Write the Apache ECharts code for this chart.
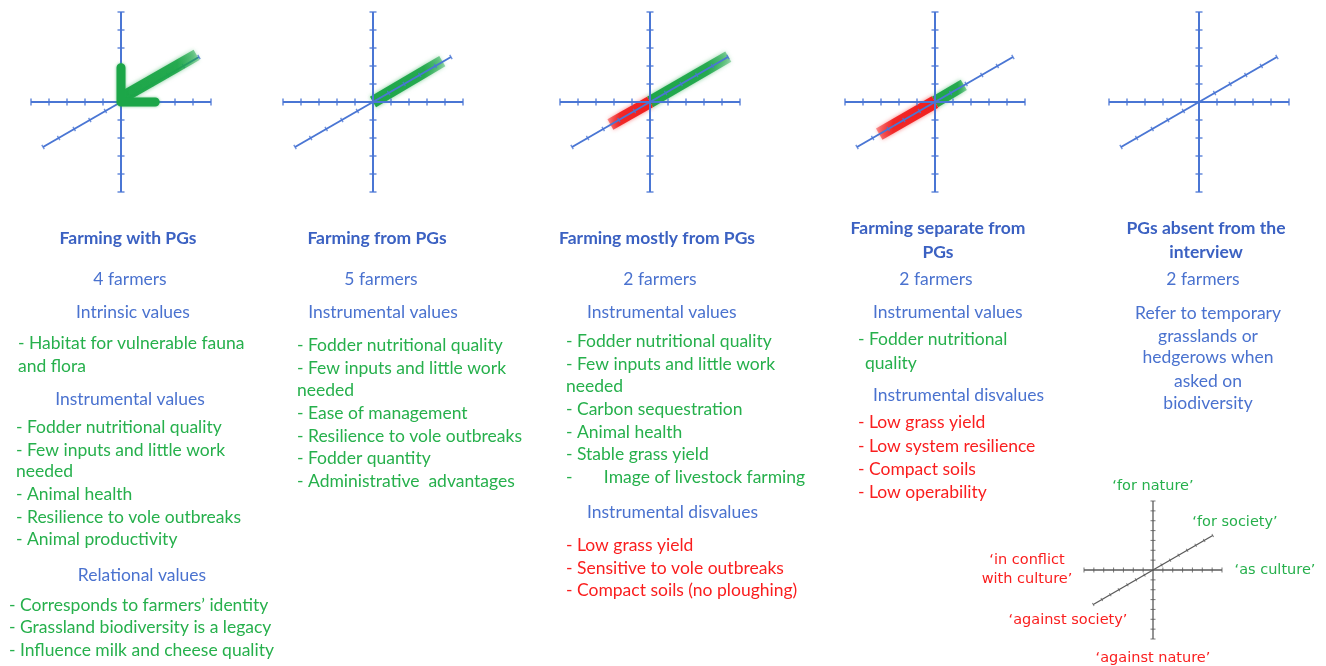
<!DOCTYPE html>
<html><head><meta charset="utf-8">
<script src="https://cdn.jsdelivr.net/npm/echarts@6/dist/echarts.min.js"></script>
<style>html,body{margin:0;padding:0;background:#fff}#c{width:1326px;height:666px}</style>
</head><body><div id="c"></div>
<script>
// ================= DATA =================
const titleLines = [['Farming with PGs'], ['Farming from PGs'], ['Farming mostly from PGs'], ['Farming separate from', 'PGs'], ['PGs absent from the', 'interview']];
const farmerCounts = ['4 farmers', '5 farmers', '2 farmers', '2 farmers', '2 farmers'];

const withPGsItems = [
  ['sub', 'Intrinsic values'],
  ['val', '- Habitat for vulnerable fauna'],
  ['val', 'and flora'],
  ['sub', 'Instrumental values'],
  ['val', '- Fodder nutritional quality'],
  ['val', '- Few inputs and little work'],
  ['val', 'needed'],
  ['val', '- Animal health'],
  ['val', '- Resilience to vole outbreaks'],
  ['val', '- Animal productivity'],
  ['sub', 'Relational values'],
  ['val', '- Corresponds to farmers\u2019 identity'],
  ['val', '- Grassland biodiversity is a legacy'],
  ['val', '- Influence milk and cheese quality']
];
const fromPGsItems = [
  ['sub', 'Instrumental values'],
  ['val', '- Fodder nutritional quality'],
  ['val', '- Few inputs and little work'],
  ['val', 'needed'],
  ['val', '- Ease of management'],
  ['val', '- Resilience to vole outbreaks'],
  ['val', '- Fodder quantity'],
  ['val', '- Administrative  advantages']
];
const mostlyItems = [
  ['sub', 'Instrumental values'],
  ['val', '- Fodder nutritional quality'],
  ['val', '- Few inputs and little work'],
  ['val', 'needed'],
  ['val', '- Carbon sequestration'],
  ['val', '- Animal health'],
  ['val', '- Stable grass yield'],
  ['val', '-       Image of livestock farming'],
  ['sub', 'Instrumental disvalues'],
  ['dis', '- Low grass yield'],
  ['dis', '- Sensitive to vole outbreaks'],
  ['dis', '- Compact soils (no ploughing)']
];
const separateItems = [
  ['sub', 'Instrumental values'],
  ['val', '- Fodder nutritional'],
  ['val', 'quality'],
  ['sub', 'Instrumental disvalues'],
  ['dis', '- Low grass yield'],
  ['dis', '- Low system resilience'],
  ['dis', '- Compact soils'],
  ['dis', '- Low operability']
];
const absentItems = [
  ['sub', 'Refer to temporary'],
  ['sub', 'grasslands or'],
  ['sub', 'hedgerows when'],
  ['sub', 'asked on'],
  ['sub', 'biodiversity']
];

// value-axis frame of each small diagram
const axisH = [[-5, 0], [5, 0]];
const axisV = [[0, -5], [0, 5]];
const axisD = [[-4.33, -2.5], [4.33, 2.5]];
const tickSteps = [-5, -4, -3, -2, -1, 1, 2, 3, 4, 5];

// coloured arrows (green = values, red = disvalues)
const withShaft = [[0.15, 0.3], [4.2, 2.62]];
const withHead = [[0, 1.9], [0, 0], [1.9, 0]];
const fromGreen = [[0, 0], [3.85, 2.27]];
const mostlyGreen = [[0, 0], [4.35, 2.52]];
const mostlyRed = [[0, 0], [-2.2, -1.25]];
const separateGreen = [[0, 0], [1.6, 0.95]];
const separateRed = [[0, 0], [-3.1, -1.78]];

// key diagram
const keyH = [[-7, 0], [7, 0]];
const keyV = [[0, -7], [0, 7]];
const keyD = [[-6.06, -3.5], [6.06, 3.5]];
const keyTickSteps = [-7, -6, -5, -4, -3, -2, -1, 1, 2, 3, 4, 5, 6, 7];
const keyLabels = ['\u2018for nature\u2019', '\u2018for society\u2019', '\u2018as culture\u2019', '\u2018in conflict', 'with culture\u2019', '\u2018against society\u2019', '\u2018against nature\u2019'];
const keyKinds = ['val', 'val', 'val', 'dis', 'dis', 'dis', 'dis'];

// ================= LAYOUT / STYLE =================
const GREEN = '#26b04c', RED = '#fa1e1e', HEAD = '#3b61c2', SUB = '#4a72cf', AXIS = '#4a76d4', KEYAX = '#5a5a5a';
const panelCX = [121, 373, 650, 935, 1199];
const titleX = [128, 377, 657, 938, 1206];
const countX = [130, 381, 660, 936, 1203];
const itemLayouts = [
  [['center', 133, 312], ['left', 18, 343], ['left', 18, 366], ['center', 130, 399], ['left', 16, 427], ['left', 16, 450], ['left', 16, 471], ['left', 16, 494], ['left', 16, 517], ['left', 16, 539], ['center', 142, 575], ['left', 9, 605], ['left', 9, 627], ['left', 9, 650]],
  [['center', 383, 312], ['left', 297, 345], ['left', 297, 368], ['left', 297, 390], ['left', 297, 413], ['left', 297, 436], ['left', 297, 458], ['left', 297, 481]],
  [['left', 587, 312], ['left', 566, 341], ['left', 566, 364], ['left', 566, 386], ['left', 566, 409], ['left', 566, 432], ['left', 566, 454], ['left', 566, 477], ['left', 587, 512], ['left', 566, 545], ['left', 566, 568], ['left', 566, 590]],
  [['left', 873, 312], ['left', 858, 339], ['left', 865, 363], ['left', 873, 395], ['left', 858, 422], ['left', 858, 446], ['left', 858, 469], ['left', 858, 492]],
  [['center', 1208, 313], ['center', 1208, 336], ['center', 1208, 357], ['center', 1208, 381], ['center', 1208, 403]]
];
const keyPos = [[1153, 486], [1235, 522], [1275, 570], [1027, 560], [1027, 579], [1068, 620], [1153, 658]];

const allItems = [withPGsItems, fromPGsItems, mostlyItems, separateItems, absentItems];
const kindColor = { sub: SUB, val: GREEN, dis: RED };
const BODY_FONT = '17.5px Lato', HEAD_FONT = 'bold 17.5px Lato', KEY_FONT = '14.5px "DejaVu Sans"';

// ================= BUILD =================
const grids = [], xAxes = [], yAxes = [], series = [];
const DEG = Math.PI / 6;

function addFrame(idx, h, v, d, steps, color, width, tickLen, zAx) {
  const base = { type: 'line', xAxisIndex: idx, yAxisIndex: idx, symbol: 'none', silent: true, animation: false, z: zAx,
    lineStyle: { color: color, width: width } };
  series.push(Object.assign({}, base, { data: h }));
  series.push(Object.assign({}, base, { data: v }));
  series.push(Object.assign({}, base, { data: d }));
  const sc = { type: 'scatter', xAxisIndex: idx, yAxisIndex: idx, symbol: 'rect', silent: true, animation: false, z: zAx,
    itemStyle: { color: color } };
  series.push(Object.assign({}, sc, { data: steps.map(s => [s, 0]), symbolSize: [width * 0.8, tickLen] }));
  series.push(Object.assign({}, sc, { data: steps.map(s => [0, s]), symbolSize: [tickLen, width * 0.8] }));
  series.push(Object.assign({}, sc, { data: steps.map(s => [s * Math.cos(DEG), s * Math.sin(DEG)]), symbolSize: [width * 0.7, tickLen * 0.7], symbolRotate: 30 }));
}

function grad(rgb, reverse) {
  const stops = [
    { offset: 0, color: 'rgba(' + rgb + ',1)' },
    { offset: 0.7, color: 'rgba(' + rgb + ',0.92)' },
    { offset: 1, color: 'rgba(' + rgb + ',0.35)' }
  ];
  return reverse ? new echarts.graphic.LinearGradient(1, 0, 0, 0, stops) : new echarts.graphic.LinearGradient(0, 0, 1, 0, stops);
}
const G_RGB = '28,166,72', R_RGB = '240,30,30';

function addBand(idx, data, rgb, reverse, width, z, cap) {
  series.push({ type: 'line', xAxisIndex: idx, yAxisIndex: idx, data: data, symbol: 'none', silent: true, animation: false, z: z,
    lineStyle: { color: grad(rgb, reverse), width: width, cap: cap || 'butt', join: 'round', shadowBlur: 4, shadowColor: 'rgba(' + rgb + ',0.6)' } });
}

for (let p = 0; p < 5; p++) {
  grids.push({ left: panelCX[p] - 90, top: 12, width: 180, height: 180 });
  xAxes.push({ type: 'value', gridIndex: p, min: -5, max: 5, show: false });
  yAxes.push({ type: 'value', gridIndex: p, min: -5, max: 5, show: false });
  addFrame(p, axisH, axisV, axisD, tickSteps, AXIS, 2, 7, p === 0 ? 2 : 5);
}
// arrows
addBand(0, withShaft, G_RGB, false, 12, 4);
series.push({ type: 'line', xAxisIndex: 0, yAxisIndex: 0, data: withHead, symbol: 'none', silent: true, animation: false, z: 4,
  lineStyle: { color: 'rgb(' + G_RGB + ')', width: 9, cap: 'round', join: 'round', shadowBlur: 3, shadowColor: 'rgba(' + G_RGB + ',0.6)' } });
addBand(1, fromGreen, G_RGB, false, 12, 3);
addBand(2, mostlyGreen, G_RGB, false, 12, 3);
addBand(2, mostlyRed, R_RGB, true, 12, 3);
addBand(3, separateGreen, G_RGB, false, 12, 3);
addBand(3, separateRed, R_RGB, true, 13, 3);

// key diagram
grids.push({ left: 1153 - 69, top: 570 - 69, width: 138, height: 138 });
xAxes.push({ type: 'value', gridIndex: 5, min: -7, max: 7, show: false });
yAxes.push({ type: 'value', gridIndex: 5, min: -7, max: 7, show: false });
addFrame(5, keyH, keyV, keyD, keyTickSteps, KEYAX, 1.3, 5, 3);

// texts
const graphics = [];
function txt(text, x, y, align, color, font) {
  graphics.push({ type: 'text', x: x, y: y, silent: true,
    style: { text: text, fill: color, font: font, align: align, verticalAlign: 'middle', textAlign: align, textVerticalAlign: 'middle' } });
}
for (let p = 0; p < 5; p++) {
  const tl = titleLines[p];
  tl.forEach((t, k) => txt(t, titleX[p], tl.length === 1 ? 238 : 228 + 24 * k, 'center', HEAD, HEAD_FONT));
  txt(farmerCounts[p], countX[p], 279, 'center', SUB, BODY_FONT);
  allItems[p].forEach((it, k) => {
    const L = itemLayouts[p][k];
    txt(it[1], L[1], L[2], L[0], kindColor[it[0]], BODY_FONT);
  });
}
keyLabels.forEach((t, k) => txt(t, keyPos[k][0], keyPos[k][1], 'center', kindColor[keyKinds[k]], KEY_FONT));

const chart = echarts.init(document.getElementById('c'), null, { renderer: 'canvas' });
chart.setOption({ animation: false, grid: grids, xAxis: xAxes, yAxis: yAxes, series: series, graphic: graphics });
</script></body></html>
